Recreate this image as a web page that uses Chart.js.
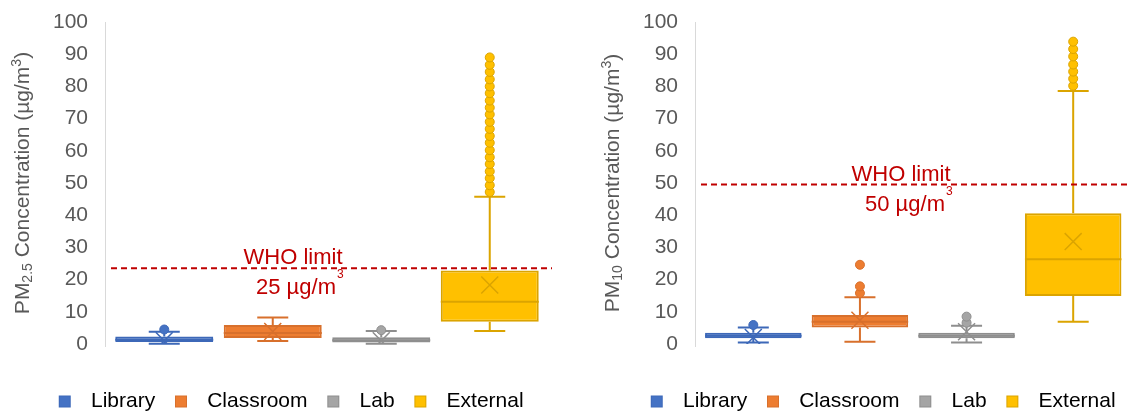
<!DOCTYPE html>
<html>
<head>
<meta charset="utf-8">
<script src="https://cdn.jsdelivr.net/npm/chart.js@4.4.0/dist/chart.umd.min.js"></script>
<style>
html,body{margin:0;padding:0;background:#fff;overflow:hidden;width:1133px;height:412px;}
.wrap{position:absolute;top:0;height:422px;}
#left{left:0;width:566px;}
#right{left:570px;width:570px;}
</style>
</head>
<body>
<div class="wrap" id="left"><canvas id="pm25"></canvas></div>
<div class="wrap" id="right"><canvas id="pm10"></canvas></div>
<script>
const FONT = '"Liberation Sans", Arial, sans-serif';
const TEXT = '#595959';

const sites = ['Library', 'Classroom', 'Lab', 'External'];
const fills = ['#4472C4', '#ED7D31', '#A5A5A5', '#FFC000'];
const strokes = ['#3D68B8', '#D8702C', '#8E8E8E', '#DBA400'];
const yTicks = [0, 10, 20, 30, 40, 50, 60, 70, 80, 90, 100];

// ========== PM2.5 ==========
const pm25Min    = [0.1, 0.9, 0.1, 4.0];
const pm25Q1     = [0.6, 1.9, 0.5, 6.9];
const pm25Median = [1.3, 3.4, 1.2, 13.1];
const pm25Q3     = [2.3, 5.9, 2.1, 22.8];
const pm25Max    = [3.8, 8.2, 4.0, 45.7];
const pm25Mean   = [1.0, 3.9, 1.0, 18.3];
const pm25Outliers = [
  [4.5],
  [],
  [4.3],
  [47.2, 49.3, 51.5, 53.6, 55.9, 58.0, 60.2, 62.5, 64.6, 66.8, 69.0, 71.3,
   73.4, 75.6, 77.9, 80.0, 82.2, 84.5, 86.7, 89.0]
];
const pm25Who = 23.5;

// ========== PM10 ==========
const pm10Min    = [0.5, 0.7, 0.5, 6.9];
const pm10Q1     = [1.8, 5.1, 1.8, 14.9];
const pm10Median = [2.6, 6.9, 2.6, 26.3];
const pm10Q3     = [3.5, 9.0, 3.5, 40.6];
const pm10Max    = [5.1, 14.5, 5.7, 78.6];
const pm10Mean   = [2.0, 7.4, 3.8, 31.8];
const pm10Outliers = [
  [5.9],
  [15.8, 17.9, 24.6],
  [6.6, 8.5],
  [80.2, 82.4, 84.6, 86.8, 89.3, 91.6, 93.9]
];
const pm10Who = 49.5;

function swatch(fill, stroke){
  const c = document.createElement('canvas');
  c.width = 24; c.height = 14;
  const g = c.getContext('2d');
  g.fillStyle = fill; g.fillRect(1, 1, 12, 12);
  g.strokeStyle = stroke; g.lineWidth = 1; g.strokeRect(1.5, 1.5, 11, 11);
  return c;
}
const swatches = sites.map((_, i) => swatch(fills[i], strokes[i]));

// whiskers + median, drawn right after the boxes
const whiskerPlugin = {
  id: 'whiskers',
  afterDatasetDraw(chart, args, o){
    if(args.index !== 0) return;
    const {ctx} = chart;
    const y = chart.scales.y;
    args.meta.data.forEach((bar, i) => {
      const half = bar.width / 2;
      const cap = 15.5;
      const yMin = y.getPixelForValue(o.min[i]);
      const yMax = y.getPixelForValue(o.max[i]);
      ctx.save();
      ctx.strokeStyle = strokes[i];
      ctx.lineWidth = 2;
      ctx.beginPath();
      ctx.moveTo(bar.x, y.getPixelForValue(o.q3[i])); ctx.lineTo(bar.x, yMax);
      ctx.moveTo(bar.x - cap, yMax); ctx.lineTo(bar.x + cap, yMax);
      ctx.moveTo(bar.x, y.getPixelForValue(o.q1[i])); ctx.lineTo(bar.x, yMin);
      ctx.moveTo(bar.x - cap, yMin); ctx.lineTo(bar.x + cap, yMin);
      const yMed = y.getPixelForValue(o.median[i]);
      ctx.moveTo(bar.x - half, yMed); ctx.lineTo(bar.x + half, yMed);
      ctx.stroke();
      ctx.restore();
    });
  }
};

// WHO dashed limit and its label
const whoPlugin = {
  id: 'who',
  afterDatasetsDraw(chart, args, o){
    const {ctx, chartArea} = chart;
    const yp = chart.scales.y.getPixelForValue(o.level);
    ctx.save();
    ctx.strokeStyle = '#C00000';
    ctx.lineWidth = 2;
    ctx.setLineDash([6, 4]);
    ctx.beginPath();
    ctx.moveTo(chartArea.left + 1, yp);
    ctx.lineTo(chartArea.right + o.extend, yp);
    ctx.stroke();
    ctx.setLineDash([]);
    ctx.fillStyle = '#C00000';
    ctx.font = '22px ' + FONT;
    ctx.textAlign = 'center';
    ctx.textBaseline = 'alphabetic';
    ctx.fillText('WHO limit', o.x, yp - 4);
    ctx.fillText(o.text, o.x2, yp + 26);
    const w = ctx.measureText(o.text).width;
    ctx.font = '12px ' + FONT;
    ctx.textAlign = 'left';
    ctx.fillText('3', o.x2 + w / 2 + 1, yp + 10);
    ctx.restore();
  }
};

// rotated y title with sub/superscripts, plus the light axis line
const titlePlugin = {
  id: 'yTitle',
  beforeDatasetsDraw(chart, args, o){
    const {ctx, chartArea} = chart;
    const ax = Math.round(chartArea.left - o.axisGap) + 0.5;
    ctx.save();
    ctx.strokeStyle = '#D9D9D9';
    ctx.lineWidth = 1;
    ctx.beginPath();
    ctx.moveTo(ax, chartArea.top);
    ctx.lineTo(ax, chartArea.bottom + 3);
    ctx.stroke();
    ctx.restore();
  },
  afterDraw(chart, args, o){
    const {ctx, chartArea} = chart;
    const fontFor = k => (k ? '14px ' : '21px ') + FONT;
    ctx.save();
    ctx.translate(o.x, (chartArea.top + chartArea.bottom) / 2);
    ctx.rotate(-Math.PI / 2);
    ctx.fillStyle = TEXT;
    ctx.textBaseline = 'middle';
    let total = 0;
    o.parts.forEach(p => { ctx.font = fontFor(p[1]); total += ctx.measureText(p[0]).width; });
    let x = -total / 2;
    o.parts.forEach(p => {
      ctx.font = fontFor(p[1]);
      const dy = p[1] === 'sub' ? 5 : p[1] === 'sup' ? -6 : 0;
      ctx.fillText(p[0], x, dy);
      x += ctx.measureText(p[0]).width;
    });
    ctx.restore();
  }
};

function makeChart(id, s, cfg){
  const datasets = [{
    type: 'bar',
    data: s.q1.map((v, i) => [v, s.q3[i]]),
    backgroundColor: fills,
    borderColor: strokes,
    borderWidth: 2,
    borderSkipped: false,
    barPercentage: cfg.barPct,
    categoryPercentage: 1,
    order: 3
  }, {
    type: 'line',
    data: s.mean,
    showLine: false,
    pointStyle: 'crossRot',
    pointRadius: 12,
    pointBorderWidth: 1.5,
    pointBorderColor: strokes,
    order: 2
  }];
  s.outliers.forEach((list, i) => {
    datasets.push({
      type: 'line',
      data: list.map(v => ({x: sites[i], y: v})),
      showLine: false,
      pointRadius: 4.5,
      pointBorderWidth: 1,
      pointBackgroundColor: fills[i],
      pointBorderColor: strokes[i],
      order: 1
    });
  });

  return new Chart(document.getElementById(id), {
    type: 'bar',
    data: {labels: sites, datasets},
    options: {
      responsive: true,
      maintainAspectRatio: false,
      animation: false,
      events: [],
      layout: {padding: {left: cfg.padL, right: cfg.padR, top: 22, bottom: 0}},
      scales: {
        x: {
          display: true,
          ticks: {display: false},
          grid: {display: false},
          border: {display: false},
          afterFit: sc => { sc.height = 27; }
        },
        y: {
          min: 0, max: 100,
          afterBuildTicks: sc => { sc.ticks = yTicks.map(v => ({value: v})); },
          ticks: {color: TEXT, font: {family: FONT, size: 21}, padding: 22},
          grid: {display: false, drawTicks: false},
          border: {display: false},
          afterFit: sc => { sc.width = cfg.yWidth; sc.paddingTop = 0; sc.paddingBottom = 0; }
        }
      },
      plugins: {
        tooltip: {enabled: false},
        legend: {
          position: 'bottom',
          align: 'start',
          labels: {
            usePointStyle: true,
            pointStyleWidth: 21.5,
            padding: 20,
            color: TEXT,
            font: {family: FONT, size: 21},
            generateLabels: () => sites.map((name, i) => ({
              text: name, pointStyle: swatches[i], fillStyle: fills[i],
              strokeStyle: strokes[i], lineWidth: 1, hidden: false, datasetIndex: 0
            }))
          }
        },
        whiskers: {min: s.min, q1: s.q1, median: s.median, q3: s.q3, max: s.max},
        who: cfg.who,
        yTitle: cfg.title
      }
    },
    plugins: [whiskerPlugin, whoPlugin, titlePlugin]
  });
}

makeChart('pm25', {
  min: pm25Min, q1: pm25Q1, median: pm25Median, q3: pm25Q3, max: pm25Max,
  mean: pm25Mean, outliers: pm25Outliers
}, {
  padL: 39, padR: 22, yWidth: 71, barPct: 0.903,
  who: {level: pm25Who, text: '25 µg/m', x: 293, x2: 296, extend: 8},
  title: {x: 23, axisGap: 5, parts: [['PM', ''], ['2.5', 'sub'], [' Concentration (µg/m', ''], ['3', 'sup'], [')', '']]}
});

makeChart('pm10', {
  min: pm10Min, q1: pm10Q1, median: pm10Median, q3: pm10Q3, max: pm10Max,
  mean: pm10Mean, outliers: pm10Outliers
}, {
  padL: 61, padR: 3, yWidth: 69, barPct: 0.905,
  who: {level: pm10Who, text: '50 µg/m', x: 331, x2: 335, extend: 4},
  title: {x: 43, axisGap: 5, parts: [['PM', ''], ['10', 'sub'], [' Concentration (µg/m', ''], ['3', 'sup'], [')', '']]}
});
</script>
</body>
</html>
